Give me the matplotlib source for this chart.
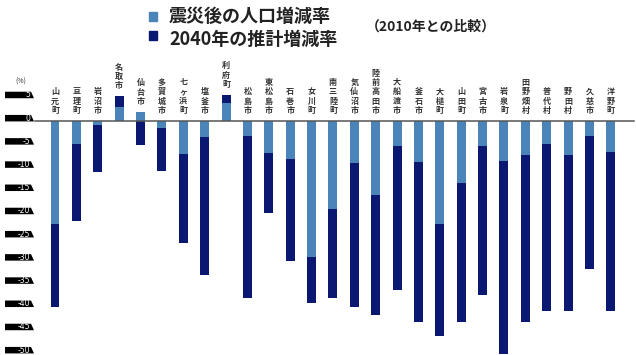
import numpy as np
import matplotlib.pyplot as plt
from matplotlib.patches import Polygon

plt.rcParams["font.family"] = ["Noto Sans CJK JP", "DejaVu Sans"]

# 市町村 (南 -> 北)
towns = ["山元町", "亘理町", "岩沼市", "名取市", "仙台市", "多賀城市", "七ヶ浜町", "塩釜市",
         "利府町", "松島市", "東松島市", "石巻市", "女川町", "南三陸町", "気仙沼市", "陸前高田市",
         "大船渡市", "釜石市", "大槌町", "山田町", "宮古市", "岩泉町", "田野畑村", "普代村",
         "野田村", "久慈市", "洋野町"]
# 震災後の人口増減率 (%)
post_quake = [-22.4, -5.1, -1.0, 3.0, 1.9, -1.6, -7.2, -3.6,
              3.8, -3.3, -7.1, -8.4, -29.4, -19.1, -9.2, -16.1,
              -5.6, -8.9, -22.4, -13.4, -5.5, -8.7, -7.5, -5.1,
              -7.5, -3.3, -6.7]
# 2040年の推計増減率 (%)
proj_2040 = [-40.1, -21.6, -11.2, 5.3, -5.3, -10.8, -26.3, -33.4,
             5.6, -38.3, -20.0, -30.3, -39.3, -38.3, -40.1, -41.9,
             -36.5, -43.5, -46.4, -43.5, -37.5, -50.3, -43.5, -41.0,
             -41.0, -32.0, -41.0]
yticks = [5, 0, -5, -10, -15, -20, -25, -30, -35, -40, -45, -50]

light = "#4b84b8"
dark = "#0a1872"

W, H = 636, 355
fig = plt.figure(figsize=(W / 100, H / 100), dpi=100)
ax = fig.add_axes([0, 0, 1, 1])
ax.axis("off")

# pixel -> data mapping
x0, dx = 55, 21.38
y0, dy = 120.5, 4.64
ax.set_xlim(-x0 / dx, (W - x0) / dx)
ax.set_ylim((y0 - H) / dy, y0 / dy)

def px(p):
    return (p - x0) / dx

x = np.arange(len(towns))
ax.bar(x, proj_2040, width=0.42, color=dark, zorder=2)
ax.bar(x, post_quake, width=0.42, color=light, zorder=3)

ax.plot([px(35), px(634)], [0, 0], color="#555555", lw=1.1, zorder=4)

for i, name in enumerate(towns):
    top = max(0, post_quake[i], proj_2040[i])
    ax.text(i, top + 1.2, "\n".join(name), ha="center", va="bottom",
            fontsize=5.8, fontweight="bold", linespacing=1.05, color="#333333")

# y axis labels (white on black tabs)
for v in yticks:
    b, t = v - 0.2, v + 1.2
    ax.add_patch(Polygon([(px(5), b), (px(34), b), (px(31), t), (px(5), t)],
                         closed=True, fc="black", ec="none", zorder=5))
    ax.text(px(30), v + 0.5, str(v), ha="right", va="center", fontsize=5.5,
            color="white", family="DejaVu Sans", zorder=6)
ax.text(px(21), 8.3, "(%)", ha="center", va="center", fontsize=5, color="#333333")

# legend
fig.patches.append(plt.Rectangle((149 / W, 1 - 21 / H), 8 / W, 9 / H, color=light,
                                 transform=fig.transFigure))
fig.patches.append(plt.Rectangle((149 / W, 1 - 40 / H), 8 / W, 9 / H, color=dark,
                                 transform=fig.transFigure))
fig.text(169 / W, 1 - 16 / H, "震災後の人口増減率", fontsize=13, fontweight="bold",
         va="center", ha="left", color="#222222")
fig.text(169 / W, 1 - 39 / H, "2040年の推計増減率", fontsize=13, fontweight="bold",
         va="center", ha="left", color="#222222")
fig.text(366 / W, 1 - 27 / H, "（2010年との比較）", fontsize=10, fontweight="bold",
         va="center", ha="left", color="#222222")

fig.savefig("out.png", dpi=100)
